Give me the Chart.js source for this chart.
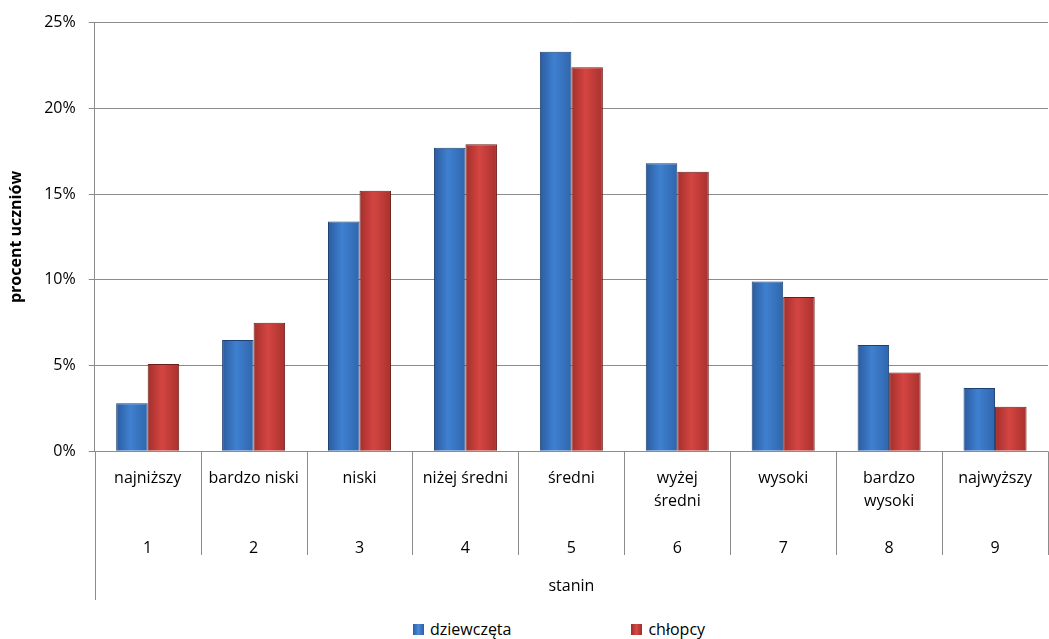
<!DOCTYPE html>
<html>
<head>
<meta charset="utf-8">
<script src="https://cdn.jsdelivr.net/npm/chart.js@4"></script>
<style>
  body { margin: 0; background: #fff; }
  #wrap { position: relative; width: 1049px; height: 639px; }
  #box { position: absolute; left: 0; top: 0; width: 1049px; height: 612px; }
  #legend { position: absolute; left: 413px; top: 619px; display: flex; align-items: center;
    font: 16px "Open Sans", sans-serif; color: #000; line-height: 20px; }
  #legend .sw { width: 11px; height: 11px; display: inline-block; margin-right: 6px; }
</style>
</head>
<body>
<div id="wrap">
  <div id="box"><canvas id="myChart"></canvas></div>
  <div id="legend">
    <span class="sw" style="background: linear-gradient(90deg,#2c5fa3,#4a8ad8,#2c5fa3)"></span><span>dziewczęta</span>
    <span class="sw" style="margin-left: 120px; background: linear-gradient(90deg,#9e2d2a,#d84844,#9e2d2a)"></span><span>chłopcy</span>
  </div>
</div>
<script>
  // stanin categories
  var nazwy = [
    ['najniższy', ''], ['bardzo niski', ''], ['niski', ''], ['niżej średni', ''], ['średni', ''],
    ['wyżej', 'średni'], ['wysoki', ''], ['bardzo', 'wysoki'], ['najwyższy', '']
  ];
  var staniny = ['1', '2', '3', '4', '5', '6', '7', '8', '9'];

  // percent of students
  var dziewczeta = [2.8, 6.5, 13.4, 17.7, 23.3, 16.8, 9.9, 6.2, 3.7];
  var chlopcy = [5.1, 7.5, 15.2, 17.9, 22.4, 16.3, 9.0, 4.6, 2.6];

  var yTicks = [0, 5, 10, 15, 20, 25];

  var catPct = 0.595;
  var etykiety = nazwy.map(function (n, i) { return [n[0], n[1], '', staniny[i]]; });

  function bevel(c1, c2, c3) {
    return function (context) {
      var chart = context.chart;
      var x = chart.scales.x;
      if (!x || context.dataIndex === undefined) return c2;
      var w = x.width / etykiety.length * catPct / 2;
      var mid = x.getPixelForValue(context.dataIndex);
      if (!isFinite(w) || !isFinite(mid) || w <= 0) return c2;
      var left = context.datasetIndex === 0 ? mid - w : mid;
      var g = chart.ctx.createLinearGradient(left, 0, left + w, 0);
      g.addColorStop(0, c1);
      g.addColorStop(0.45, c2);
      g.addColorStop(1, c3);
      return g;
    };
  }

  // separators under the category axis (multi-level labels)
  var separatory = {
    id: 'separatory',
    afterDraw: function (chart) {
      var x = chart.scales.x, area = chart.chartArea, ctx = chart.ctx;
      var step = x.width / etykiety.length;
      ctx.save();
      ctx.strokeStyle = '#8c8c8c';
      ctx.lineWidth = 1;
      for (var i = 0; i <= etykiety.length; i++) {
        var px = Math.round(x.left + i * step) + 0.5;
        ctx.beginPath();
        ctx.moveTo(px, area.bottom);
        ctx.lineTo(px, i === 0 ? 600 : 555);
        ctx.stroke();
      }
      ctx.restore();
    }
  };

  var ctx = document.getElementById('myChart').getContext('2d');
  var myChart = new Chart(ctx, {
    type: 'bar',
    plugins: [separatory],
    data: {
      labels: etykiety,
      datasets: [{
        label: 'dziewczęta',
        data: dziewczeta,
        backgroundColor: bevel('#2a5c9f', '#3f80d0', '#2f66ad'),
        borderColor: '#1e3f70',
        borderWidth: 1,
        borderSkipped: 'bottom'
      }, {
        label: 'chłopcy',
        data: chlopcy,
        backgroundColor: bevel('#a32f2c', '#d44541', '#a8312e'),
        borderColor: '#6e1c1a',
        borderWidth: 1,
        borderSkipped: 'bottom'
      }]
    },
    options: {
      responsive: true,
      maintainAspectRatio: false,
      animation: false,
      layout: { padding: { left: 7, top: 12, right: 1, bottom: 0 } },
      categoryPercentage: catPct,
      barPercentage: 1,
      plugins: {
        legend: { display: false },
        tooltip: { enabled: false }
      },
      scales: {
        x: {
          grid: { display: false },
          border: { display: false },
          ticks: {
            color: '#000',
            font: { family: 'Open Sans', size: 16, lineHeight: 1.46 },
            padding: 7,
            maxRotation: 0,
            autoSkip: false
          },
          title: {
            display: true,
            text: 'stanin',
            color: '#000',
            font: { family: 'Open Sans', size: 16 },
            padding: { top: 10, bottom: 16 }
          }
        },
        y: {
          min: 0,
          max: 25,
          afterBuildTicks: function (axis) {
            axis.ticks = yTicks.map(function (v) { return { value: v }; });
          },
          grid: { color: '#8c8c8c', tickLength: 6 },
          border: { color: '#8c8c8c' },
          ticks: {
            color: '#000',
            font: { family: 'Open Sans', size: 16 },
            padding: 13,
            callback: function (v) { return v + '%'; }
          },
          title: {
            display: true,
            text: 'procent uczniów',
            color: '#000',
            font: { family: 'Open Sans', size: 16, weight: 'bold' },
            padding: { top: 0, bottom: 5 }
          }
        }
      }
    }
  });
</script>
</body>
</html>
